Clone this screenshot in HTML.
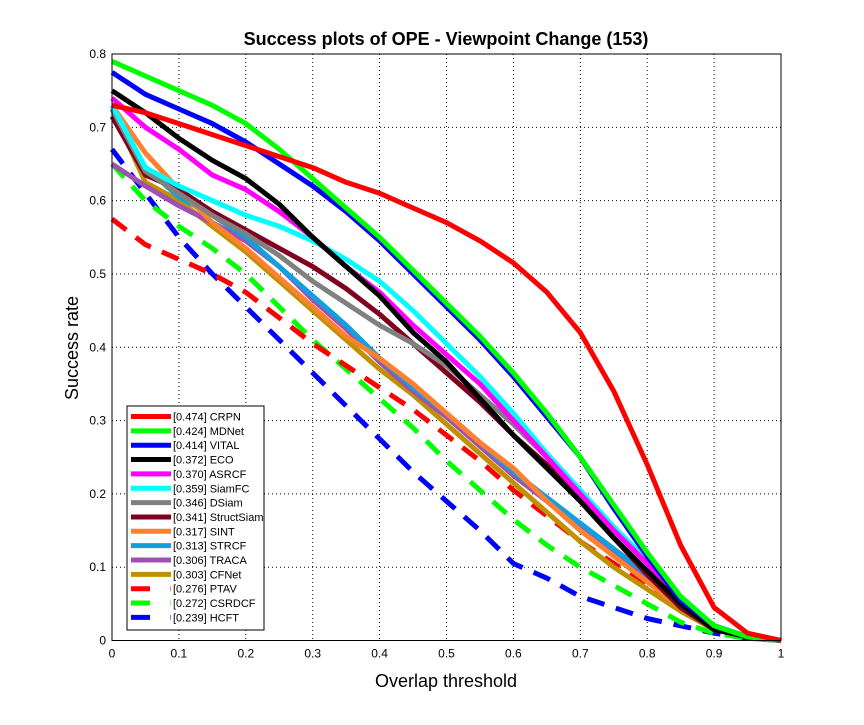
<!DOCTYPE html>
<html><head><meta charset="utf-8"><style>
body{margin:0;background:#fff;}
svg text{font-family:"Liberation Sans",Arial,sans-serif;}
</style></head><body>
<svg id="chart" width="864" height="720" xmlns="http://www.w3.org/2000/svg">
<rect width="864" height="720" fill="#fff"/>
<g id="grid"></g>
<g id="series" clip-path="url(#clip)"></g>
<defs><clipPath id="clip"><rect x="110" y="52" width="673" height="591"/></clipPath></defs>
<rect x="112" y="54" width="669" height="586.5" fill="none" stroke="#000" stroke-width="1"/>
<g id="ticks"></g>
<text x="446" y="45" text-anchor="middle" font-size="18" font-weight="bold">Success plots of OPE - Viewpoint Change (153)</text>
<text x="446" y="687" text-anchor="middle" font-size="18">Overlap threshold</text>
<text x="78" y="348" text-anchor="middle" font-size="18" transform="rotate(-90 78 348)">Success rate</text>
<g id="legend"></g>
</svg>
<script>
const thresholds=[0,0.05,0.1,0.15,0.2,0.25,0.3,0.35,0.4,0.45,0.5,0.55,0.6,0.65,0.7,0.75,0.8,0.85,0.9,0.95,1];
const names=["CRPN","MDNet","VITAL","ECO","ASRCF","SiamFC","DSiam","StructSiam","SINT","STRCF","TRACA","CFNet","PTAV","CSRDCF","HCFT"];
const scores=["0.474","0.424","0.414","0.372","0.370","0.359","0.346","0.341","0.317","0.313","0.306","0.303","0.276","0.272","0.239"];
const colors=["#ff0000","#00ff00","#0000ff","#000000","#ff00ff","#00ffff","#808080","#800020","#ff8030","#10a0e0","#a050b0","#c09000","#ff0000","#00ff00","#0000ff"];
const dashed=[false,false,false,false,false,false,false,false,false,false,false,false,true,true,true];
const sCRPN=[.73,.72,.705,.69,.675,.66,.645,.625,.61,.59,.57,.545,.515,.475,.42,.34,.24,.13,.045,.01,0];
const sMDNet=[.79,.77,.75,.73,.705,.67,.63,.59,.55,.505,.46,.415,.365,.31,.25,.185,.12,.06,.02,.005,0];
const sVITAL=[.775,.745,.725,.705,.68,.65,.62,.585,.545,.5,.455,.41,.36,.305,.25,.18,.115,.055,.02,.005,0];
const sECO=[.75,.72,.685,.655,.63,.595,.55,.51,.47,.42,.38,.33,.28,.235,.19,.14,.095,.05,.015,.005,0];
const sASRCF=[.74,.70,.67,.635,.615,.585,.55,.51,.475,.43,.39,.35,.3,.25,.2,.15,.105,.055,.02,.005,0];
const sSiamFC=[.73,.645,.62,.60,.58,.565,.545,.52,.49,.45,.405,.36,.31,.255,.205,.155,.11,.06,.02,.005,0];
const sDSiam=[.725,.64,.61,.58,.555,.525,.49,.46,.43,.405,.375,.335,.295,.25,.2,.15,.105,.055,.02,.005,0];
const sStructSiam=[.715,.635,.615,.585,.56,.535,.51,.48,.445,.405,.365,.325,.28,.24,.19,.14,.09,.045,.015,.005,0];
const sSINT=[.73,.665,.615,.57,.535,.495,.455,.415,.385,.35,.31,.27,.235,.19,.15,.115,.08,.045,.015,.005,0];
const sSTRCF=[.725,.645,.605,.58,.55,.51,.47,.43,.385,.345,.31,.27,.23,.195,.16,.125,.09,.05,.02,.005,0];
const sTRACA=[.65,.62,.593,.57,.545,.51,.465,.425,.38,.34,.305,.265,.225,.19,.155,.12,.085,.045,.015,.005,0];
const sCFNet=[.725,.625,.6,.565,.53,.49,.45,.41,.37,.335,.295,.255,.215,.175,.135,.10,.07,.04,.015,.005,0];
const sPTAV=[.575,.54,.52,.5,.475,.44,.405,.375,.345,.315,.28,.245,.205,.17,.135,.105,.075,.045,.02,.005,0];
const sCSRDCF=[.65,.6,.565,.535,.5,.455,.41,.37,.33,.29,.245,.205,.165,.13,.1,.075,.05,.025,.01,.003,0];
const sHCFT=[.67,.61,.55,.5,.455,.41,.365,.32,.275,.23,.19,.15,.105,.085,.06,.045,.03,.02,.01,.003,0];
const xTicks=[0,0.1,0.2,0.3,0.4,0.5,0.6,0.7,0.8,0.9,1];
const xTickLabels=["0","0.1","0.2","0.3","0.4","0.5","0.6","0.7","0.8","0.9","1"];
const yTicks=[0,0.1,0.2,0.3,0.4,0.5,0.6,0.7,0.8];
const yTickLabels=["0","0.1","0.2","0.3","0.4","0.5","0.6","0.7","0.8"];
const seriesData=[sCRPN,sMDNet,sVITAL,sECO,sASRCF,sSiamFC,sDSiam,sStructSiam,sSINT,sSTRCF,sTRACA,sCFNet,sPTAV,sCSRDCF,sHCFT];
const NS="http://www.w3.org/2000/svg";
const X0=112,X1=781,Y0=640.5,Y1=54;
const xs=v=>X0+(X1-X0)*v;
const ys=v=>Y0-(Y0-Y1)*v/0.8;
function mk(tag,attrs,parent){const e=document.createElementNS(NS,tag);for(const k in attrs)e.setAttribute(k,attrs[k]);parent.appendChild(e);return e;}
const grid=document.getElementById('grid'),ticks=document.getElementById('ticks');
xTicks.forEach((t,i)=>{
  if(i>0&&i<xTicks.length-1){const g=mk('line',{x1:xs(t),x2:xs(t),y1:Y1,y2:Y0,stroke:'#000','stroke-width':1,'stroke-dasharray':'1,3'},grid);
  
  }
  const tk=mk('text',{x:xs(t),y:Y0+17,'text-anchor':'middle','font-size':12},ticks);tk.textContent=xTickLabels[i];
  
  
});
yTicks.forEach((t,i)=>{
  if(i>0&&i<yTicks.length-1){const g=mk('line',{x1:X0,x2:X1,y1:ys(t),y2:ys(t),stroke:'#000','stroke-width':1,'stroke-dasharray':'1,3'},grid);
  
  }
  const tk=mk('text',{x:X0-6,y:ys(t)+4,'text-anchor':'end','font-size':12},ticks);tk.textContent=yTickLabels[i];
  
  
});
const sg=document.getElementById('series');
for(let k=seriesData.length-1;k>=0;k--){
  const pts=thresholds.map((t,i)=>xs(t).toFixed(1)+','+ys(seriesData[k][i]).toFixed(1)).join(' ');
  const a={points:pts,fill:'none',stroke:colors[k],'stroke-width':5,'stroke-linejoin':'round'};
  if(dashed[k])a['stroke-dasharray']='18,12';
  const p=mk('polyline',a,sg);
  
  
}
const lg=document.getElementById('legend');
const box=mk('rect',{x:127,y:406,width:137,height:224,fill:'#fff',stroke:'#000','stroke-width':1},lg);


names.forEach((n,k)=>{
  const y=416.5+k*14.35;
  const g=mk('g',{},lg);
  
  
  if(dashed[k]){mk('line',{x1:131,x2:150,y1:y,y2:y,stroke:colors[k],'stroke-width':5},g);
    mk('line',{x1:170,x2:171,y1:y,y2:y,stroke:colors[k],'stroke-width':5,opacity:0.5},g);}
  else mk('line',{x1:131,x2:171,y1:y,y2:y,stroke:colors[k],'stroke-width':5},g);
  const t=mk('text',{x:173,y:y+4,'font-size':11},g);t.textContent='['+scores[k]+'] '+n;
});
</script>
</body></html>
